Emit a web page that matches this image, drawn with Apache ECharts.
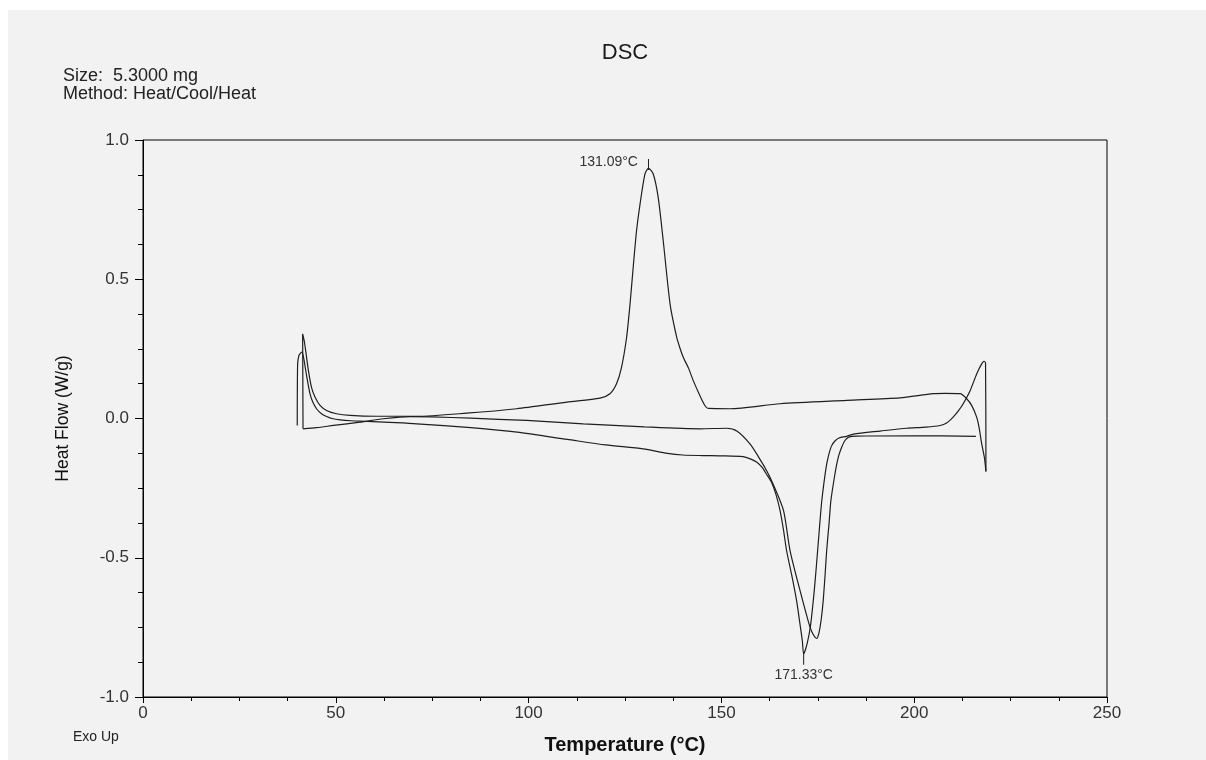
<!DOCTYPE html>
<html>
<head>
<meta charset="utf-8">
<script src="https://cdn.jsdelivr.net/npm/echarts@6/dist/echarts.min.js"></script>
<style>
html,body{margin:0;padding:0;background:#ffffff;}
#bg{position:absolute;left:8px;top:10px;width:1198px;height:750px;background:#f2f2f2;}
#chart{position:absolute;left:0;top:0;width:1206px;height:760px;}
</style>
</head>
<body>
<div id="bg"></div>
<div id="chart"></div>
<script>
// ---- data ----
const xTicks = [0, 50, 100, 150, 200, 250];
const yTicks = [-1.0, -0.5, 0.0, 0.5, 1.0];

// first heating
const heat1Temp = [40.0, 40.1, 40.4, 40.7, 41.2, 41.6, 42.0, 42.5, 43.3, 44.0, 45.0, 46.2, 47.6, 49.0, 51.1, 54.0, 58.0, 64.0, 71.0, 85.0, 97.0, 110.0, 120.0, 129.7, 136.0, 140.0, 145.0, 150.0, 155.6, 157.5, 159.2, 160.5, 161.7, 163.0, 164.2, 165.2, 166.1, 166.9, 168.2, 169.5, 170.5, 171.0, 171.33, 172.2, 173.1, 174.2, 175.1, 176.0, 176.9, 177.5, 178.5, 179.5, 180.5, 182.5, 184.2, 191.2, 198.0, 203.0, 206.7, 208.5, 210.1, 211.5, 212.7, 214.5, 216.2, 217.5, 218.1, 218.5, 218.6];
const heat1Flow = [-0.025, 0.196, 0.225, 0.232, 0.238, 0.222, 0.19, 0.148, 0.089, 0.06, 0.035, 0.018, 0.007, 0.0, -0.005, -0.008, -0.01, -0.014, -0.019, -0.033, -0.049, -0.075, -0.095, -0.109, -0.125, -0.131, -0.133, -0.134, -0.137, -0.145, -0.157, -0.175, -0.2, -0.229, -0.275, -0.33, -0.4, -0.474, -0.56, -0.654, -0.75, -0.8, -0.845, -0.81, -0.745, -0.6, -0.45, -0.3, -0.2, -0.15, -0.1, -0.08, -0.07, -0.064, -0.056, -0.045, -0.035, -0.031, -0.025, -0.015, 0.005, 0.028, 0.053, 0.1, 0.16, 0.196, 0.205, 0.2, -0.19];

// cooling
const coolTemp = [218.6, 218.2, 217.5, 216.8, 216.2, 214.9, 213.6, 211.9, 208.0, 204.9, 196.3, 182.5, 165.2, 152.2, 146.6, 145.8, 144.5, 142.7, 141.5, 140.1, 139.2, 138.4, 136.7, 134.9, 133.6, 132.3, 131.09, 130.2, 128.9, 128.0, 127.2, 126.3, 125.4, 124.1, 122.8, 121.1, 118.5, 109.9, 96.9, 83.9, 71.0, 60.6, 53.7, 50.2, 47.6, 45.9, 44.6, 43.7, 42.9, 42.3, 41.8, 41.4, 41.5];
const coolFlow = [-0.19, -0.14, -0.09, -0.03, 0.005, 0.047, 0.071, 0.089, 0.09, 0.089, 0.074, 0.065, 0.053, 0.035, 0.036, 0.045, 0.08, 0.136, 0.18, 0.22, 0.255, 0.292, 0.41, 0.64, 0.795, 0.879, 0.898, 0.879, 0.77, 0.675, 0.555, 0.41, 0.29, 0.184, 0.125, 0.089, 0.073, 0.059, 0.035, 0.019, 0.008, 0.008, 0.011, 0.017, 0.029, 0.047, 0.077, 0.112, 0.172, 0.232, 0.28, 0.304, -0.037];

// second heating
const heat2Temp = [41.5, 45.0, 49.4, 56.3, 62.3, 69.2, 75.0, 85.0, 99.5, 114.2, 130.0, 144.5, 151.4, 154.0, 157.4, 159.5, 161.7, 163.4, 166.1, 167.8, 170.4, 173.0, 174.0, 174.7, 175.3, 175.9, 176.4, 176.9, 177.3, 177.9, 178.4, 179.2, 179.9, 180.5, 181.2, 182.0, 183.0, 185.0, 200.0, 216.0];
const heat2Flow = [-0.037, -0.033, -0.025, -0.013, -0.001, 0.007, 0.006, 0.001, -0.007, -0.019, -0.03, -0.037, -0.035, -0.045, -0.091, -0.135, -0.187, -0.235, -0.33, -0.474, -0.618, -0.75, -0.78, -0.79, -0.77, -0.72, -0.654, -0.56, -0.474, -0.38, -0.294, -0.22, -0.165, -0.13, -0.103, -0.08, -0.067, -0.063, -0.062, -0.064];

const peakCool = [131.09, 0.898];
const peakHeat = [171.33, -0.845];

function zip(t, f) { return t.map((v, i) => [v, f[i]]); }

const FONT = 'Liberation Sans, Arial, sans-serif';
const lineColor = '#1e1e1e';
const chart = echarts.init(document.getElementById('chart'), null, {renderer: 'canvas'});

const baseSeries = {
  type: 'line', showSymbol: false, smooth: 0.25, animation: false,
  lineStyle: {color: lineColor, width: 1.2}, itemStyle: {color: lineColor},
  emphasis: {disabled: true}, silent: true
};

chart.setOption({
  backgroundColor: 'transparent',
  animation: false,
  textStyle: {fontFamily: FONT},
  title: {
    text: 'DSC', left: 620, top: 37, textAlign: 'center',
    textStyle: {fontSize: 22, fontWeight: 'normal', color: '#1a1a1a', fontFamily: FONT}
  },
  graphic: [
    {type: 'text', left: 63, top: 67, style: {text: 'Size:  5.3000 mg', fontSize: 18, fill: '#222', fontFamily: FONT}},
    {type: 'text', left: 63, top: 85, style: {text: 'Method: Heat/Cool/Heat', fontSize: 18, fill: '#222', fontFamily: FONT}},
    {type: 'text', left: 73, top: 730, style: {text: 'Exo Up', fontSize: 14, fill: '#222', fontFamily: FONT}}
  ],
  grid: {left: 143, right: 99, top: 140, bottom: 63, show: true, borderColor: '#000', borderWidth: 1, backgroundColor: 'transparent'},
  xAxis: {
    type: 'value', min: xTicks[0], max: xTicks[xTicks.length - 1], interval: 50,
    name: 'Temperature (°C)', nameLocation: 'middle', nameGap: 38,
    nameTextStyle: {fontSize: 20, fontWeight: 'bold', color: '#111'},
    axisLine: {show: true, onZero: false, lineStyle: {color: '#000', width: 1}},
    axisTick: {show: true, length: 6, lineStyle: {color: '#000'}},
    minorTick: {show: true, splitNumber: 4, length: 4, lineStyle: {color: '#000'}},
    splitLine: {show: false},
    axisLabel: {fontSize: 17, color: '#333', margin: 8}
  },
  yAxis: {
    type: 'value', min: yTicks[0], max: yTicks[yTicks.length - 1], interval: 0.5,
    name: 'Heat Flow (W/g)', nameLocation: 'middle', nameGap: 71, nameRotate: 90,
    nameTextStyle: {fontSize: 17.5, color: '#111'},
    axisLine: {show: true, onZero: false, lineStyle: {color: '#000', width: 1}},
    axisTick: {show: true, length: 8, lineStyle: {color: '#000'}},
    minorTick: {show: true, splitNumber: 4, length: 5, lineStyle: {color: '#000'}},
    splitLine: {show: false},
    axisLabel: {fontSize: 17, color: '#333', margin: 14, formatter: v => v.toFixed(1)}
  },
  series: [
    Object.assign({}, baseSeries, {
      name: 'Heat 1', data: zip(heat1Temp, heat1Flow),
      markPoint: {
        silent: true, animation: false,
        data: [{
          coord: peakHeat, symbol: 'rect', symbolSize: [1, 12], symbolOffset: [0, 5],
          itemStyle: {color: lineColor},
          label: {show: true, formatter: peakHeat[0].toFixed(2) + '°C', position: 'bottom', distance: 3,
                  fontSize: 14, color: '#333'}
        }]
      }
    }),
    Object.assign({}, baseSeries, {
      name: 'Cool', data: zip(coolTemp, coolFlow),
      markPoint: {
        silent: true, animation: false,
        data: [{
          coord: peakCool, symbol: 'rect', symbolSize: [1, 11], symbolOffset: [0, -4],
          itemStyle: {color: lineColor},
          label: {show: true, formatter: peakCool[0].toFixed(2) + '°C', position: 'left', distance: 10,
                  offset: [0, -2], fontSize: 14, color: '#333'}
        }]
      }
    }),
    Object.assign({}, baseSeries, {name: 'Heat 2', data: zip(heat2Temp, heat2Flow)})
  ]
});
</script>
</body>
</html>
